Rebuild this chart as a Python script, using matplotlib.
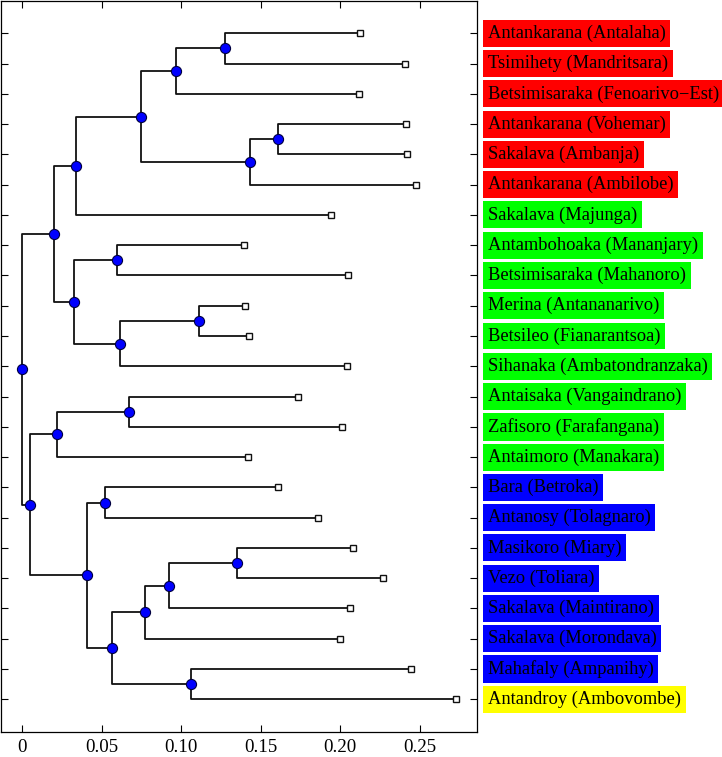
import matplotlib
matplotlib.use("Agg")
import matplotlib.pyplot as plt
from matplotlib.transforms import blended_transform_factory

# ---- Data ----
labels = [
    "Antankarana (Antalaha)", "Tsimihety (Mandritsara)", "Betsimisaraka (Fenoarivo\u2212Est)",
    "Antankarana (Vohemar)", "Sakalava (Ambanja)", "Antankarana (Ambilobe)",
    "Sakalava (Majunga)", "Antambohoaka (Mananjary)", "Betsimisaraka (Mahanoro)",
    "Merina (Antananarivo)", "Betsileo (Fianarantsoa)", "Sihanaka (Ambatondranzaka)",
    "Antaisaka (Vangaindrano)", "Zafisoro (Farafangana)", "Antaimoro (Manakara)",
    "Bara (Betroka)", "Antanosy (Tolagnaro)", "Masikoro (Miary)", "Vezo (Toliara)",
    "Sakalava (Maintirano)", "Sakalava (Morondava)", "Mahafaly (Ampanihy)",
    "Antandroy (Ambovombe)",
]
label_colors = ["#ff0000"] * 6 + ["#00ff00"] * 9 + ["#0000ff"] * 7 + ["#ffff00"]
leaf_heights = [
    0.2125, 0.2410, 0.2120, 0.2414, 0.2418, 0.2475, 0.1944, 0.1395, 0.2049,
    0.1401, 0.1426, 0.2045, 0.1734, 0.2009, 0.1420, 0.1611, 0.1860, 0.2079,
    0.2269, 0.2060, 0.1997, 0.2442, 0.2729,
]
# merges: (child, child, height); leaves are 0..22, new nodes numbered from 23
merges = [
    (0, 1, 0.1273), (23, 2, 0.0969), (3, 4, 0.1611), (25, 5, 0.1431),
    (24, 26, 0.0746), (27, 6, 0.0340), (7, 8, 0.0595), (9, 10, 0.1110),
    (30, 11, 0.0614), (29, 31, 0.0327), (28, 32, 0.0201), (12, 13, 0.0673),
    (34, 14, 0.0218), (15, 16, 0.0520), (17, 18, 0.1349), (37, 19, 0.0925),
    (38, 20, 0.0770), (21, 22, 0.1061), (39, 40, 0.0566), (36, 41, 0.0407),
    (35, 42, 0.0050), (33, 43, 0.0000),
]
xticks = [0, 0.05, 0.10, 0.15, 0.20, 0.25]
xtick_labels = ["0", "0.05", "0.10", "0.15", "0.20", "0.25"]

plt.rcParams["font.family"] = ["Liberation Serif", "DejaVu Serif"]

fig = plt.figure(figsize=(7.22, 7.57), dpi=100)
ax = fig.add_axes([1 / 722, 25 / 757, 476 / 722, 731 / 757])

# node positions: leaves at their index, inner nodes midway between children
xs = list(leaf_heights)
ys = list(range(len(labels)))
line_kw = dict(color="#111111", lw=1.3, solid_capstyle="butt", zorder=1)
for a, b, h in merges:
    ax.plot([xs[a], h, h, xs[b]], [ys[a], ys[a], ys[b], ys[b]], **line_kw)
    xs.append(h)
    ys.append((ys[a] + ys[b]) / 2)

n = len(labels)
ax.plot(xs[:n], ys[:n], "s", ms=4.8, mfc="white", mec="#111111", mew=1.0,
        ls="none", zorder=3)
ax.plot(xs[n:], ys[n:], "o", ms=7.3, mfc="#0000ff", mec="#000040", mew=0.8,
        ls="none", zorder=3)

ax.set_xlim(-0.0132, 0.286)
ax.set_ylim(23.08, -1.067)
ax.set_xticks(xticks)
ax.set_xticklabels(xtick_labels)
ax.set_yticks(range(n))
ax.set_yticklabels([])
ax.tick_params(axis="x", direction="in", top=True, bottom=True, length=5,
               width=0.8, labelsize=13.6, pad=5)
ax.tick_params(axis="y", direction="in", left=True, right=True, length=5,
               width=0.8)
for sp in ax.spines.values():
    sp.set_linewidth(0.9)

trans = blended_transform_factory(ax.transAxes, ax.transData)
for i, (lab, col) in enumerate(zip(labels, label_colors)):
    ax.text(1.0225, i, lab, transform=trans, ha="left", va="center",
            fontsize=13.3, color="black", clip_on=False,
            bbox=dict(boxstyle="square,pad=0.26", fc=col, ec="none"))

fig.savefig("out.png", dpi=100)
